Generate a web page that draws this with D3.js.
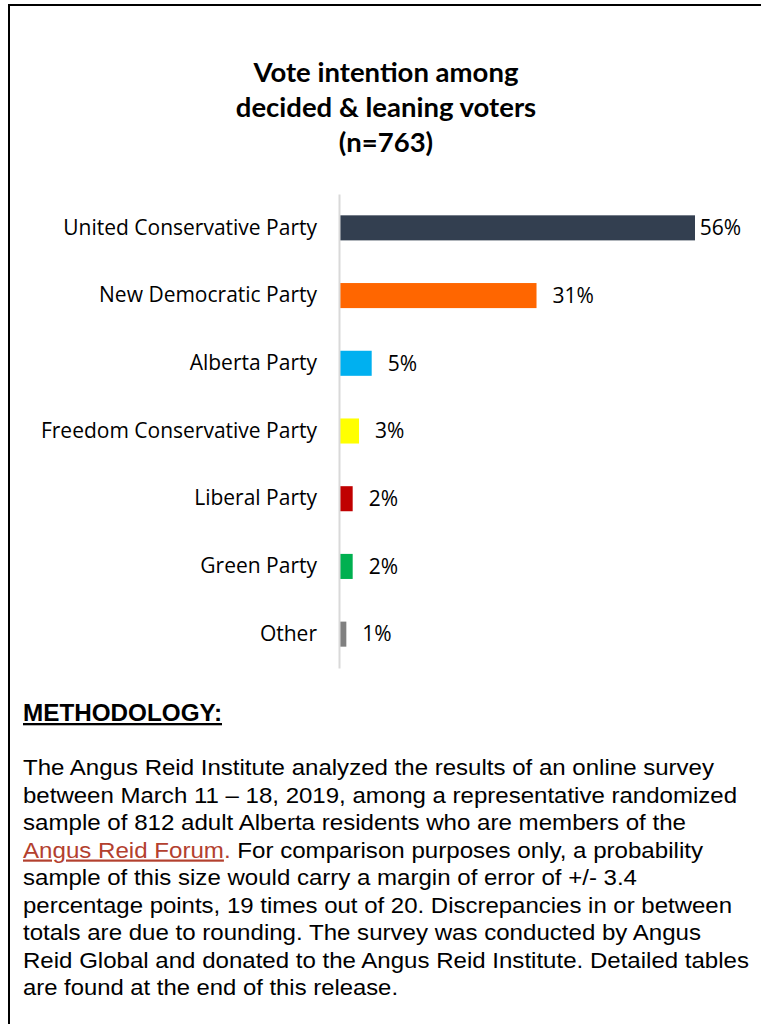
<!DOCTYPE html>
<html>
<head>
<meta charset="utf-8">
<script src="https://cdn.jsdelivr.net/npm/d3@7"></script>
<style>
  html, body { margin: 0; padding: 0; background: #fff; }
  svg { display: block; }
</style>
</head>
<body>
<svg id="chart" width="761" height="1024"></svg>
<script>
const categories = ["United Conservative Party", "New Democratic Party", "Alberta Party", "Freedom Conservative Party", "Liberal Party", "Green Party", "Other"];
const values = [56, 31, 5, 3, 2, 2, 1];
const colors = ["#333f50", "#ff6600", "#00b0f0", "#ffff00", "#c00000", "#00b050", "#808080"];
const titleLines = ["Vote intention among", "decided & leaning voters", "(n=763)"];
const methodologyHeading = "METHODOLOGY:";
const methodologyLines = [
  [{t: "The Angus Reid Institute analyzed the results of an online survey"}],
  [{t: "between March 11 \u2013 18, 2019, among a representative randomized"}],
  [{t: "sample of 812 adult Alberta residents who are members of the"}],
  [{t: "Angus Reid Forum", link: true}, {t: ".", linkColor: true}, {t: " For comparison purposes only, a probability"}],
  [{t: "sample of this size would carry a margin of error of +/- 3.4"}],
  [{t: "percentage points, 19 times out of 20. Discrepancies in or between"}],
  [{t: "totals are due to rounding. The survey was conducted by Angus"}],
  [{t: "Reid Global and donated to the Angus Reid Institute. Detailed tables"}],
  [{t: "are found at the end of this release."}]
];
const lineWidths = [691, 714, 663, 680, 614, 709, 678, 726, 375];

const svg = d3.select("#chart");

// frame
svg.append("path")
  .attr("d", "M9,1024 L9,5 L761,5")
  .attr("fill", "none").attr("stroke", "#000").attr("stroke-width", 2);

// title
svg.append("g").selectAll("text").data(titleLines).join("text")
  .attr("x", 386).attr("y", (d, i) => 82 + i * 35)
  .attr("text-anchor", "middle")
  .attr("font-family", "Lato, 'Open Sans', sans-serif")
  .attr("font-weight", "bold").attr("font-size", 27.5)
  .attr("fill", "#000")
  .text(d => d);

// scales
const y = d3.scaleBand().domain(categories).range([194, 668]).paddingInner(0.63).paddingOuter(0.315);
const x = d3.scaleLinear().domain([0, d3.max(values)]).range([340, 695]);

const data = categories.map((c, i) => ({c, v: values[i], col: colors[i]}));

// bars
svg.append("g").selectAll("rect").data(data).join("rect")
  .attr("x", x(0)).attr("y", d => y(d.c))
  .attr("width", d => x(d.v) - x(0)).attr("height", y.bandwidth())
  .attr("fill", d => d.col);

// axis line
const axis = svg.append("g").attr("transform", "translate(339,0)")
  .call(d3.axisLeft(y).tickSize(0).tickPadding(22));
axis.select(".domain").attr("stroke", "#d9d9d9").attr("stroke-width", 2);
axis.selectAll("text")
  .attr("font-family", "'Open Sans', Lato, sans-serif")
  .attr("font-size", 21).attr("fill", "#000");

// value labels
const vl = svg.append("g").selectAll("text").data(data).join("text")
  .attr("y", d => y(d.c) + y.bandwidth() / 2)
  .attr("dy", "0.35em")
  .attr("font-family", "'Open Sans', Lato, sans-serif")
  .attr("font-size", 21).attr("fill", "#000")
  .text(d => d.v + "%");
vl.attr("x", function(d) {
  const w = this.getComputedTextLength();
  return Math.min(x(d.v) + 16, 741 - w);
});

// methodology
svg.append("text")
  .attr("x", 23).attr("y", 721)
  .attr("font-family", "'Liberation Sans', Arial, sans-serif")
  .attr("font-weight", "bold").attr("font-size", 23)
  .attr("text-decoration", "underline")
  .attr("textLength", 199).attr("lengthAdjust", "spacingAndGlyphs")
  .text(methodologyHeading);

const mg = svg.append("g");
methodologyLines.forEach((parts, i) => {
  const t = mg.append("text")
    .attr("x", 23).attr("y", 775 + i * 27.5)
    .attr("font-family", "'Liberation Sans', Arial, sans-serif")
    .attr("font-size", 22).attr("fill", "#000")
    .attr("textLength", lineWidths[i]).attr("lengthAdjust", "spacingAndGlyphs");
  parts.forEach(p => {
    const ts = t.append("tspan").text(p.t);
    if (p.link) ts.attr("fill", "#b3402e").attr("text-decoration", "underline");
    else if (p.linkColor) ts.attr("fill", "#b3402e");
  });
});
</script>
</body>
</html>
